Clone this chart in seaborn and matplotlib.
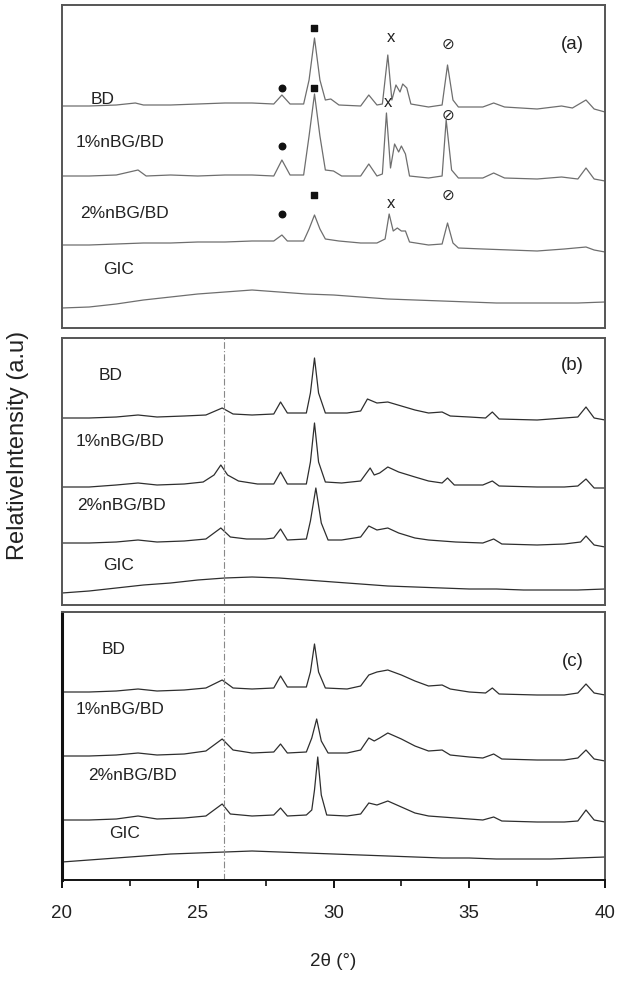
import matplotlib
matplotlib.use("Agg")
import matplotlib.pyplot as plt
import seaborn as sns
import pandas as pd
from matplotlib.ticker import MultipleLocator

sns.set_theme(style="white")
plt.rcParams['font.family'] = ['Liberation Sans', 'DejaVu Sans']

samples = ["BD", "1%nBG/BD", "2%nBG/BD", "GIC"]

# ---------------- panel (a) ----------------
a_BD_x = [20, 21, 22, 22.7, 23, 24, 25, 26, 27, 27.8, 28.1, 28.4, 28.9, 29.1, 29.3, 29.5, 29.7, 29.9, 30.2, 31.0, 31.3, 31.6, 31.8, 32.0, 32.15, 32.3, 32.45, 32.55, 32.7, 32.85, 33.5, 34.0, 34.2, 34.4, 34.6, 35.5, 35.9, 36.3, 37.5, 38.4, 38.8, 39.3, 39.6, 40]
a_BD_y = [0, 0, 1, 3, 1, 1, 2, 3, 3, 2, 11, 2, 2, 26, 68, 26, 6, 7, 1, 0, 11, 1, 2, 51, 6, 21, 14, 22, 18, 2, -1, 1, 41, 6, -1, -1, 3, -1, -3, 0, -2, 6, -3, -6]
a_1_x = [20, 21, 22, 22.8, 23.1, 24, 25, 26, 27, 27.8, 28.1, 28.4, 28.9, 29.1, 29.3, 29.5, 29.7, 30.0, 30.3, 31.0, 31.3, 31.6, 31.8, 31.95, 32.1, 32.25, 32.4, 32.5, 32.65, 32.8, 33.5, 34.0, 34.15, 34.35, 34.6, 35.5, 35.9, 36.3, 37.5, 38.4, 39.0, 39.3, 39.6, 40]
a_1_y = [0, 0, 1, 6, 0, 1, 0, 1, 1, 0, 16, 1, 1, 40, 82, 40, 6, 5, 0, 0, 12, 0, 2, 63, 8, 32, 24, 30, 22, 0, -2, 0, 56, 6, -2, -2, 3, -2, -3, -1, -3, 8, -3, -5]
a_2_x = [20, 21, 22, 23, 24, 25, 26, 27, 27.8, 28.1, 28.3, 28.9, 29.1, 29.3, 29.5, 29.7, 30.2, 31.0, 31.6, 31.9, 32.05, 32.2, 32.35, 32.5, 32.65, 32.8, 33.5, 34.0, 34.2, 34.4, 34.6, 35.5, 36.5, 37.5, 38.5, 39.3, 39.6, 40]
a_2_y = [0, 0, 1, 2, 2, 3, 3, 4, 4, 10, 4, 4, 16, 30, 16, 6, 4, 2, 2, 6, 31, 14, 17, 14, 14, 3, 0, 1, 22, 2, -3, -4, -5, -6, -4, -2, -5, -7]
a_G_x = [20, 21, 22, 23, 24, 25, 26, 27, 28, 29, 30, 31, 32, 33, 34, 35, 36, 37, 38, 39, 40]
a_G_y = [0, 1, 4, 8, 11, 14, 16, 18, 16, 14, 13, 11, 9, 8, 7, 6, 5, 5, 5, 5, 6]

# ---------------- panel (b) ----------------
b_BD_x = [20, 21, 22, 22.8, 23.5, 24.5, 25.3, 25.9, 26.3, 27, 27.8, 28.05, 28.3, 29.0, 29.15, 29.3, 29.45, 29.7, 30.5, 31.0, 31.25, 31.6, 32.0, 32.5, 33.0, 33.5, 34.0, 34.3, 35.0, 35.6, 35.85, 36.1, 37.5, 38.5, 39.0, 39.3, 39.6, 40]
b_BD_y = [0, 0, 1, 3, 1, 2, 3, 10, 4, 3, 4, 16, 5, 5, 25, 60, 25, 5, 5, 7, 19, 15, 16, 12, 8, 5, 6, 2, 1, 0, 6, -1, -2, 0, 1, 11, 0, -2]
b_1_x = [20, 21, 22, 22.8, 23.5, 24.5, 25.2, 25.6, 25.85, 26.1, 26.5, 27.2, 27.8, 28.05, 28.3, 29.0, 29.15, 29.3, 29.45, 29.7, 30.3, 31.0, 31.35, 31.5, 31.7, 32.0, 32.4, 33.0, 33.5, 34.0, 34.2, 34.45, 35.5, 35.85, 36.1, 37.5, 38.5, 39.0, 39.3, 39.6, 40]
b_1_y = [0, 0, 2, 4, 2, 3, 5, 12, 22, 12, 6, 3, 3, 15, 3, 3, 25, 64, 25, 5, 4, 6, 19, 12, 14, 20, 15, 10, 6, 4, 9, 2, 2, 6, 1, 0, 0, 1, 8, -1, -1]
b_2_x = [20, 21, 22, 22.8, 23.5, 24.5, 25.3, 25.85, 26.2, 26.8, 27.5, 27.8, 28.05, 28.3, 29.0, 29.15, 29.35, 29.55, 29.8, 30.3, 31.0, 31.3, 31.6, 32.0, 32.4, 33.0, 33.5, 34.5, 35.5, 35.9, 36.2, 37.5, 38.5, 39.1, 39.3, 39.6, 40]
b_2_y = [0, 0, 1, 3, 1, 2, 4, 15, 6, 4, 4, 5, 14, 3, 4, 22, 55, 20, 3, 3, 6, 17, 13, 15, 10, 5, 3, 1, 0, 4, -1, -2, -1, 1, 7, -2, -4]
b_G_x = [20, 21, 22, 23, 24, 25, 26, 27, 28, 29, 30, 31, 32, 33, 34, 35, 36, 37, 38, 39, 40]
b_G_y = [0, 2, 5, 8, 10, 13, 15, 16, 15, 13, 11, 9, 7, 6, 5, 4, 4, 3, 3, 3, 4]

# ---------------- panel (c) ----------------
c_BD_x = [20, 21, 22, 22.8, 23.5, 24.5, 25.3, 25.9, 26.3, 27.0, 27.8, 28.05, 28.3, 29.0, 29.15, 29.3, 29.45, 29.7, 30.5, 31.0, 31.3, 31.6, 32.0, 32.5, 33.0, 33.5, 34.0, 34.3, 35.0, 35.6, 35.85, 36.1, 37.5, 38.5, 39.0, 39.3, 39.6, 40]
c_BD_y = [0, 0, 1, 3, 1, 2, 4, 12, 4, 3, 4, 16, 5, 5, 20, 48, 20, 4, 3, 6, 17, 20, 22, 17, 11, 6, 7, 3, 0, -1, 4, -2, -3, -3, -1, 8, -1, -3]
c_1_x = [20, 21, 22, 22.8, 23.5, 24.5, 25.3, 25.9, 26.3, 27, 27.8, 28.05, 28.3, 29.0, 29.2, 29.38, 29.55, 29.8, 30.5, 31.0, 31.3, 31.5, 31.7, 32.0, 32.5, 33.0, 33.5, 34.0, 34.3, 35.0, 35.5, 35.9, 36.2, 37.5, 38.5, 39.0, 39.3, 39.6, 40]
c_1_y = [0, 0, 1, 3, 1, 2, 5, 17, 6, 3, 4, 12, 3, 4, 18, 37, 15, 3, 3, 6, 18, 15, 18, 23, 17, 10, 5, 6, 1, -1, -2, 2, -3, -4, -4, -2, 6, -3, -5]
c_2_x = [20, 21, 22, 22.8, 23.5, 24.5, 25.3, 25.9, 26.2, 27, 27.8, 28.05, 28.3, 29.0, 29.2, 29.3, 29.42, 29.55, 29.75, 30.5, 31.0, 31.3, 31.6, 32.0, 32.5, 33.0, 33.5, 34.5, 35.5, 35.9, 36.2, 37.5, 38.5, 39.0, 39.3, 39.6, 40]
c_2_y = [0, 0, 1, 4, 1, 2, 4, 16, 6, 4, 5, 12, 4, 5, 10, 30, 63, 25, 5, 4, 6, 17, 15, 19, 13, 7, 4, 2, 0, 3, -1, -2, -2, -1, 10, 0, -2]
c_G_x = [20, 21, 22, 23, 24, 25, 26, 27, 28, 29, 30, 31, 32, 33, 34, 35, 36, 37, 38, 39, 40]
c_G_y = [0, 2, 4, 6, 8, 9, 10, 11, 10, 9, 8, 7, 6, 5, 4, 4, 3, 3, 3, 4, 5]

panel_names = ["(a)", "(b)", "(c)"]
reference_line_2theta = 25.95

# phase markers in panel (a): 2theta of reflections per symbol
marker_dot_x = [28.1, 28.1, 28.1]
marker_square_x = [29.3, 29.3, 29.3]
marker_cross_x = [32.1, 32.0, 32.1]
marker_slash_x = [34.2, 34.2, 34.2]

curves = {
    0: [(a_BD_x, a_BD_y), (a_1_x, a_1_y), (a_2_x, a_2_y), (a_G_x, a_G_y)],
    1: [(b_BD_x, b_BD_y), (b_1_x, b_1_y), (b_2_x, b_2_y), (b_G_x, b_G_y)],
    2: [(c_BD_x, c_BD_y), (c_1_x, c_1_y), (c_2_x, c_2_y), (c_G_x, c_G_y)],
}

# ---------------- layout / style ----------------
W, H = 619, 985
fig = plt.figure(figsize=(W / 100, H / 100), dpi=100)
fig.patch.set_facecolor("white")

boxes = [(5, 328), (338, 605), (612, 880)]  # pixel top/bottom
offsets = [[222, 152, 83, 20], [187, 118, 62, 12], [188, 124, 60, 18]]
line_colors = ["#6e6e6e", "#2e2e2e", "#2e2e2e"]
label_y = [[228, 185, 115, 58], [230, 164, 100, 40], [231, 170, 105, 47]]
label_x = [[21.5, 22.15, 22.3, 22.1], [21.8, 22.15, 22.2, 22.1], [21.9, 22.15, 22.6, 22.3]]
tag_y = [283, 239, 219]

# marker heights (panel units) for BD, 1%, 2%
dot_h = [240, 182, 114]
sq_h = [300, 240, 133]
x_h = [290, 225, 124]
sl_h = [284, 213, 133]

x0, x1 = 62, 605
axes = []
for i, (top, bot) in enumerate(boxes):
    ax = fig.add_axes([x0 / W, 1 - bot / H, (x1 - x0) / W, (bot - top) / H])
    axes.append(ax)
    hgt = bot - top
    for j, (xs, ys) in enumerate(curves[i]):
        df = pd.DataFrame({"x": xs, "y": [v + offsets[i][j] for v in ys]})
        sns.lineplot(data=df, x="x", y="y", ax=ax, color=line_colors[i],
                     lw=0.9, estimator=None, sort=False)
        ax.text(label_x[i][j], label_y[i][j], samples[j], fontsize=12.5,
                ha="center", va="center", color="#222222")
    ax.set_xlim(20, 40)
    ax.set_ylim(0, hgt)
    ax.set_yticks([])
    ax.set_xlabel("")
    ax.set_ylabel("")
    ax.text(38.8, tag_y[i], panel_names[i], fontsize=13.5, ha="center",
            va="center", color="#222222")
    if i > 0:
        ax.axvline(reference_line_2theta, color="#888888", lw=0.8,
                   ls=(0, (6, 2, 1, 2)))
    for s in ax.spines.values():
        s.set_color("#555555")
        s.set_linewidth(1.4)
    if i < 2:
        ax.set_xticks([])
    else:
        ax.spines["left"].set_color("#111111")
        ax.spines["left"].set_linewidth(2.2)
        ax.spines["bottom"].set_color("#111111")
        ax.set_xticks([20, 25, 30, 35, 40])
        ax.xaxis.set_minor_locator(MultipleLocator(2.5))
        ax.tick_params(axis="x", which="major", direction="out", length=6,
                       width=1.4, color="#111111", labelsize=13.5,
                       labelcolor="#222222", bottom=True, pad=12)
        ax.tick_params(axis="x", which="minor", direction="out", length=4,
                       width=1.2, color="#111111", bottom=True)
        ax.set_xlabel("2θ (°)", fontsize=13.5, color="#222222", labelpad=22)

# panel (a) phase markers
axa = axes[0]
axa.scatter(marker_dot_x, dot_h, marker="o", s=22, color="#111111", zorder=5)
axa.scatter(marker_square_x, sq_h, marker="s", s=16, color="#111111", zorder=5)
for xx, hh in zip(marker_cross_x, x_h):
    axa.text(xx, hh, "x", fontsize=12, ha="center", va="center", color="#222222")
for xx, hh in zip(marker_slash_x, sl_h):
    axa.text(xx, hh, "⊘", fontsize=11, ha="center", va="center", color="#222222",
             family=["DejaVu Sans"])

fig.text(18 / W, 1 - 445 / H, "RelativeIntensity (a.u)", rotation=90,
         fontsize=17, ha="center", va="center", color="#222222")

fig.savefig("out.png", dpi=100, facecolor="white")
